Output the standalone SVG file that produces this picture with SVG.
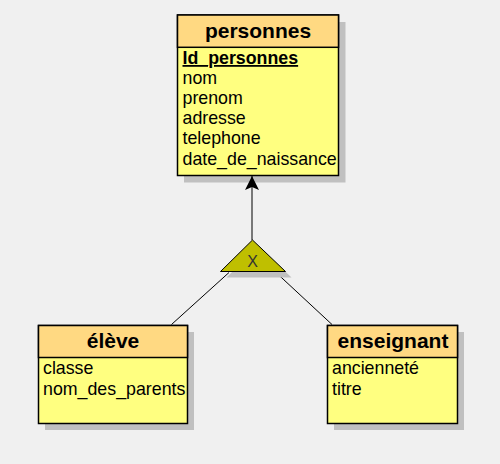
<svg xmlns="http://www.w3.org/2000/svg" width="500" height="464" viewBox="0 0 500 464">
<defs>
<style>
.shadow{fill:#c0c0c0}
.head{fill:#ffd982;stroke:#000;stroke-width:1.5}
.body{fill:#ffff80;stroke:#000;stroke-width:1.5}
.title{font-family:"Liberation Sans",Arial,sans-serif;font-weight:bold;font-size:21px;fill:#000;text-anchor:middle}
.attr{font-family:"Liberation Sans",Arial,sans-serif;font-size:17.8px;fill:#000}
.link{stroke:#000;stroke-width:1;fill:none}
</style>
<marker id="arr" viewBox="0 0 14 14" refX="14" refY="7" markerWidth="14" markerHeight="14" markerUnits="userSpaceOnUse" orient="auto">
<path d="M0,0 L14,7 L0,14 L3,7 Z" fill="#000"/>
</marker>
</defs>
<rect width="500" height="464" fill="#f0f0f0"/>
<g id="personnes">
<rect class="shadow" x="184" y="22" width="161.5" height="160.5"/>
<rect class="body" x="177.5" y="15" width="161" height="160.5"/>
<rect class="head" x="177.5" y="15" width="161" height="32.3"/>
<text class="title" x="258" y="37.5">personnes</text>
<text class="attr" x="182.5" y="64" font-weight="bold" text-decoration="underline">Id_personnes</text>
<text class="attr" x="182.5" y="84">nom</text>
<text class="attr" x="182.5" y="104">prenom</text>
<text class="attr" x="182.5" y="124">adresse</text>
<text class="attr" x="182.5" y="144">telephone</text>
<text class="attr" x="182.5" y="164.5">date_de_naissance</text>
</g>
<g id="eleve">
<rect class="shadow" x="45" y="332" width="149" height="98"/>
<rect class="body" x="38.5" y="325.5" width="149" height="98"/>
<rect class="head" x="38.5" y="325.5" width="149" height="32"/>
<text class="title" x="113" y="348">élève</text>
<text class="attr" x="43" y="374">classe</text>
<text class="attr" x="43" y="395">nom_des_parents</text>
</g>
<g id="enseignant">
<rect class="shadow" x="334" y="332" width="130" height="98"/>
<rect class="body" x="327.5" y="325.5" width="130" height="98"/>
<rect class="head" x="327.5" y="325.5" width="130" height="32"/>
<text class="title" x="393" y="348">enseignant</text>
<text class="attr" x="332" y="374">ancienneté</text>
<text class="attr" x="332" y="395">titre</text>
</g>
<g id="connectors">
<line class="link" x1="252" y1="240" x2="252" y2="176" marker-end="url(#arr)"/>
<line class="link" x1="229" y1="272.5" x2="171.5" y2="324.5"/>
<line class="link" x1="276" y1="272.5" x2="332" y2="324.5"/>
</g>
<g id="inheritance">
<polygon class="shadow" points="258.5,246 226.5,277.5 291.5,277.5"/>
<polygon points="252.5,240 220.5,271.5 285.5,271.5" fill="#bfbf00" stroke="#000" stroke-width="1"/>
<text x="252.5" y="267" font-family="Liberation Sans,Arial,sans-serif" font-size="16" fill="#333" text-anchor="middle">X</text>
</g>
</svg>
